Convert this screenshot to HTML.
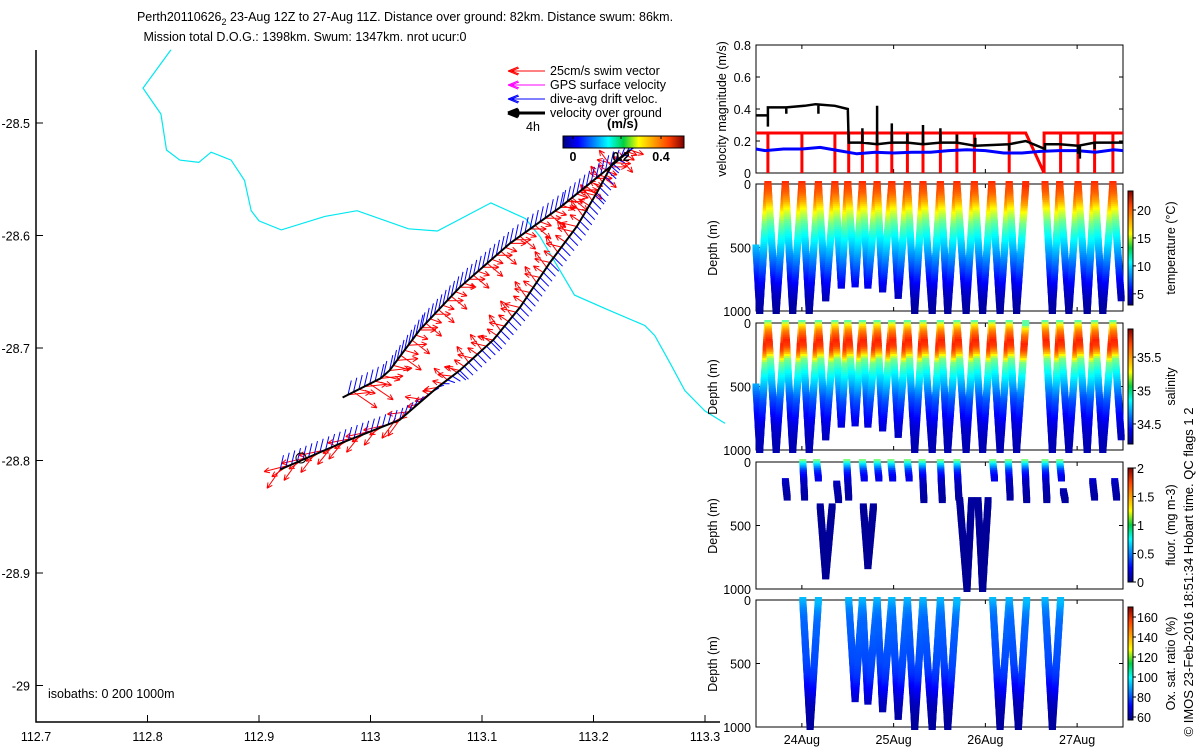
<!DOCTYPE html>
<html><head><meta charset="utf-8">
<style>
body{margin:0;background:#fff;}
svg{display:block;font-family:"Liberation Sans",sans-serif;}
text{fill:#000;}
</style></head>
<body>
<svg id="fig" width="1200" height="750" viewBox="0 0 1200 750" xmlns="http://www.w3.org/2000/svg">
<defs>
<linearGradient id="jetH" x1="0" x2="1" y1="0" y2="0">
<stop offset="0" stop-color="#000080"/><stop offset="0.125" stop-color="#0000ff"/><stop offset="0.375" stop-color="#00ffff"/><stop offset="0.5" stop-color="#00d040"/><stop offset="0.625" stop-color="#ffff00"/><stop offset="0.875" stop-color="#ff4000"/><stop offset="1" stop-color="#800000"/>
</linearGradient>
<linearGradient id="jetV" x1="0" x2="0" y1="1" y2="0">
<stop offset="0" stop-color="#000080"/><stop offset="0.125" stop-color="#0000ff"/><stop offset="0.375" stop-color="#00ffff"/><stop offset="0.5" stop-color="#00d040"/><stop offset="0.625" stop-color="#ffff00"/><stop offset="0.875" stop-color="#ff4000"/><stop offset="1" stop-color="#800000"/>
</linearGradient>
</defs>
<text x="405" y="21" font-size="12.5" text-anchor="middle">Perth20110626<tspan font-size="9" dy="4">2</tspan><tspan dy="-4"> 23-Aug 12Z to 27-Aug 11Z. Distance over ground: 82km. Distance swum: 86km.</tspan></text>
<text x="305" y="41" font-size="12.5" text-anchor="middle">Mission total D.O.G.: 1398km. Swum: 1347km. nrot ucur:0</text>
<g id="map"></g>
<g id="panels"></g>
<text transform="translate(1193,572) rotate(-90)" font-size="13" text-anchor="middle">© IMOS 23-Feb-2016 18:51:34 Hobart time. QC flags 1  2</text>
</svg>
<script>
// ---------- DATA ----------
const mapLonTicks=[112.7,112.8,112.9,113,113.1,113.2,113.3];
const mapLatTicks=[-28.5,-28.6,-28.7,-28.8,-28.9,-29];
const isoLon=[112.821,112.796,112.812,112.817,112.829,112.846,112.857,112.875,112.887,112.893,112.900,112.920,112.959,112.988,113.034,113.060,113.108,113.139,113.152,113.183,113.213,113.246,113.255,113.269,113.282,113.300,113.318];
const isoLat=[-28.435,-28.469,-28.492,-28.524,-28.533,-28.535,-28.526,-28.533,-28.551,-28.578,-28.587,-28.595,-28.583,-28.578,-28.594,-28.596,-28.571,-28.585,-28.601,-28.653,-28.666,-28.680,-28.689,-28.714,-28.738,-28.756,-28.767];
const trackLon=[112.919,112.975,113.026,113.060,113.080,113.110,113.134,113.161,113.185,113.203,113.217,113.233,113.215,113.170,113.125,113.080,113.044,113.017,113.009,112.975];
const trackLat=[-28.808,-28.784,-28.764,-28.735,-28.720,-28.693,-28.664,-28.624,-28.592,-28.562,-28.536,-28.524,-28.539,-28.575,-28.607,-28.646,-28.684,-28.720,-28.727,-28.744];
const driftU=[0.03,0.03,0.03,0.06,0.08,0.08,0.08,0.08,0.08,0.08,0.07,0.05,0.03,0.03,0.03,0.03,0.03,0.03,0.03,0.03];
const driftV=[0.13,0.12,0.11,0.02,-0.08,-0.08,-0.08,-0.08,-0.08,-0.08,-0.06,0.05,0.14,0.14,0.14,0.14,0.14,0.14,0.13,0.13];
const swimU=[-0.17,-0.17,-0.15,-0.12,-0.12,-0.12,-0.12,-0.12,-0.12,-0.12,-0.12,0.1,0.14,0.14,0.14,0.14,0.14,0.2,0.2,0.2];
const swimV=[-0.12,-0.1,-0.1,0.02,0.08,0.08,0.08,0.08,0.08,0.08,0.08,-0.08,-0.05,-0.05,-0.05,-0.05,-0.05,-0.05,-0.05,-0.05];

const dateTicks=[24,25,26,27];
const dateLabels=["24Aug","25Aug","26Aug","27Aug"];
const velTicks=[0,0.2,0.4,0.6,0.8];
const blackT=[23.5,23.63,23.63,23.83,24.03,24.15,24.36,24.50,24.51,24.66,24.82,24.98,25.15,25.32,25.51,25.69,25.89,26.26,26.44,26.65,26.65,26.81,27.01,27.19,27.5];
const blackV=[0.36,0.36,0.41,0.41,0.42,0.43,0.42,0.40,0.19,0.19,0.18,0.19,0.19,0.18,0.19,0.19,0.17,0.18,0.20,0.15,0.18,0.18,0.17,0.19,0.19];
const spikeT=[23.63,23.83,24.18,24.66,24.82,24.98,25.15,25.32,25.51,25.69,25.89,26.26,27.01,27.03,27.19];
const spikeV=[0.29,0.37,0.37,0.28,0.42,0.31,0.25,0.30,0.28,0.24,0.22,0.14,0.12,0.09,0.15];
const blueT=[23.5,23.6,23.8,24.0,24.2,24.4,24.6,24.8,25.0,25.2,25.4,25.6,25.8,26.0,26.2,26.4,26.6,26.8,27.0,27.2,27.4,27.5];
const blueV=[0.15,0.14,0.15,0.15,0.16,0.14,0.12,0.13,0.125,0.13,0.13,0.14,0.145,0.14,0.125,0.125,0.135,0.14,0.14,0.13,0.145,0.14];
const swimLevel=0.25;
const redDropT=[23.63,24.00,24.36,24.51,24.66,24.82,24.98,25.15,25.32,25.51,25.69,25.88,26.26,26.64,26.82,27.01,27.19,27.39];

const diveT=[23.50,23.54,23.63,23.72,23.82,23.90,24.00,24.08,24.18,24.26,24.36,24.43,24.50,24.58,24.66,24.72,24.82,24.88,24.98,25.05,25.15,25.23,25.32,25.42,25.51,25.59,25.69,25.79,25.88,25.97,26.07,26.16,26.26,26.34,26.44,null,26.65,26.73,26.81,26.91,27.01,27.11,27.19,27.28,27.39,27.48];
const diveD=[500,1000,0,1000,0,1000,0,1000,0,900,0,800,0,790,0,800,0,830,0,880,0,1000,0,1000,0,1000,0,1000,0,1000,0,1000,0,1000,0,null,0,1000,0,1000,0,1000,0,1000,0,900];
const profDepth=[0,30,80,150,200,250,300,400,500,600,700,800,900,1000];
const tempProf=[20,19.5,19,17.5,16,14.5,13,11,9.5,8,6.5,5,4,3.5];
const salProf=[35.0,35.3,35.5,35.65,35.6,35.4,35.05,34.85,34.7,34.55,34.45,34.35,34.3,34.28];
const fluorProf=[1.0,0.7,0.35,0.15,0.1,0.08,0.06,0.05,0.05,0.05,0.04,0.04,0.04,0.04];
const oxProf=[92,90,86,83,82,82,81,80,79,76,70,64,61,60];
const flStreakT=[23.82,24.01,24.16,24.38,24.49,24.66,24.82,24.97,25.15,25.31,25.51,25.69,26.08,26.25,26.43,26.65,26.81,26.85,27.17,27.41];
const flStreakTop=[150,0,0,170,0,0,0,0,0,0,0,0,0,0,0,0,0,230,150,150];
const flStreakBot=[280,280,130,300,280,130,130,130,130,300,300,280,130,280,300,300,130,300,280,280];
const flVStart=[24.20,24.67,25.72,25.92];
const flVBottom=[24.26,24.72,25.80,25.97];
const flVEnd=[24.33,24.78,25.85,26.03];
const flVDepth=[900,820,1000,1000];
const flVTop=[350,350,300,300];
const oxStart=[24.01,24.51,24.66,24.82,24.98,25.15,25.32,25.51,26.08,26.26,26.65];
const oxBottom=[24.09,24.58,24.72,24.88,25.05,25.23,25.42,25.59,26.16,26.36,26.73];
const oxEnd=[24.18,24.66,24.82,24.98,25.15,25.32,25.51,25.69,26.26,26.45,26.82];
const oxDepth=[1000,780,800,860,920,1000,1000,1000,1000,1000,1000];

// ---------- HELPERS ----------
const NS="http://www.w3.org/2000/svg";
function mk(parent,tag,attrs){const e=document.createElementNS(NS,tag);for(const k in attrs)e.setAttribute(k,attrs[k]);parent.appendChild(e);return e;}
function jet(t){t=Math.max(0,Math.min(1,t));const c=x=>Math.round(255*Math.max(0,Math.min(1,x)));return `rgb(${c(1.5-Math.abs(4*t-3))},${c(1.5-Math.abs(4*t-2))},${c(1.5-Math.abs(4*t-1))})`;}
function interp(xs,ys,x){for(let i=0;i<xs.length-1;i++){if(x<=xs[i+1]){const f=(x-xs[i])/(xs[i+1]-xs[i]);return ys[i]+f*(ys[i+1]-ys[i]);}}return ys[ys.length-1];}
const lonX=lon=>36+(lon-112.7)*1115;
const latY=lat=>123+(-28.5-lat)*1125;
const dX=d=>756+(d-23.5)*91.75;
const vY=v=>173-v*160;

// ---------- MAP ----------
const map=document.getElementById('map');
let iso=mk(map,'polyline',{points:isoLon.map((l,i)=>lonX(l).toFixed(1)+','+latY(isoLat[i]).toFixed(1)).join(' '),fill:'none',stroke:'#00e8f0','stroke-width':1.2});


const vec=mk(map,'g',{});


let blueD='',redD='';
const S=110, angs=[-0.35,0,0.35], lens=[1.0,0.75,1.25];
for(let i=0;i<trackLon.length-1;i++){
  const x0=lonX(trackLon[i]),y0=latY(trackLat[i]),x1=lonX(trackLon[i+1]),y1=latY(trackLat[i+1]);
  const L=Math.hypot(x1-x0,y1-y0),n=Math.max(1,Math.floor(L/3));
  for(let k=0;k<n;k++){
    const f=k/n,x=x0+f*(x1-x0),y=y0+f*(y1-y0);
    const du=driftU[i]+f*(driftU[i+1]-driftU[i]),dv=driftV[i]+f*(driftV[i+1]-driftV[i]);
    if(k%2===0)blueD+=`M${x.toFixed(1)},${y.toFixed(1)}l${(du*S).toFixed(1)},${(-dv*S).toFixed(1)}`;
    if(k%2===1)continue;
    const su=swimU[i]+f*(swimU[i+1]-swimU[i]),sv=swimV[i]+f*(swimV[i+1]-swimV[i]);
    const j=(k/2)%3;const a=Math.atan2(-sv,su)+angs[j];const m=Math.hypot(su,sv)*S*lens[j];
    const ex=x+m*Math.cos(a),ey=y+m*Math.sin(a);
    redD+=`M${x.toFixed(1)},${y.toFixed(1)}L${ex.toFixed(1)},${ey.toFixed(1)}`;
    const h1=a+Math.PI-0.45,h2=a+Math.PI+0.45;
    redD+=`M${ex.toFixed(1)},${ey.toFixed(1)}l${(6*Math.cos(h1)).toFixed(1)},${(6*Math.sin(h1)).toFixed(1)}M${ex.toFixed(1)},${ey.toFixed(1)}l${(6*Math.cos(h2)).toFixed(1)},${(6*Math.sin(h2)).toFixed(1)}`;
  }
}
let rp=mk(vec,'path',{d:redD,stroke:'#ff0000','stroke-width':1,fill:'none'});


let bp=mk(vec,'path',{d:blueD,stroke:'#0000ff','stroke-width':1,fill:'none'});


let tr=mk(map,'polyline',{points:trackLon.map((l,i)=>lonX(l).toFixed(1)+','+latY(trackLat[i]).toFixed(1)).join(' '),fill:'none',stroke:'#000','stroke-width':2});


let cir=mk(map,'circle',{cx:301,cy:458,r:5,fill:'none',stroke:'#000','stroke-width':1});


let ax=mk(map,'path',{d:'M36,50V722H720',stroke:'#000','stroke-width':1.5,fill:'none'});


mapLonTicks.forEach(l=>{const x=lonX(l);mk(map,'line',{x1:x,x2:x,y1:722,y2:715,stroke:'#000'});
 const t=mk(map,'text',{x:x,y:741,'font-size':12.5,'text-anchor':'middle'});t.textContent=String(l);
 
 });
mapLatTicks.forEach(l=>{const y=latY(l);mk(map,'line',{x1:36,x2:43,y1:y,y2:y,stroke:'#000'});
 const t=mk(map,'text',{x:30,y:y+5,'font-size':12.5,'text-anchor':'end'});t.textContent=String(l);
 
 });
let isoT=mk(map,'text',{x:48,y:698,'font-size':12.5});isoT.textContent='isobaths: 0   200  1000m';isoT.setAttribute('xml:space','preserve');


const leg=mk(map,'g',{});


[['#ff0000','25cm/s swim vector',1],['#ff00ff','GPS surface velocity',1],['#0000ff','dive-avg drift veloc.',1],['#000000','velocity over ground',3]].forEach((e,i)=>{
  const y=71+i*14;
  mk(leg,'path',{d:`M545,${y}H508M508,${y}l10,-4M508,${y}l10,4M511,${y}l8,-3M511,${y}l8,3`,stroke:e[0],'stroke-width':e[2],fill:'none'});
  const t=mk(leg,'text',{x:550,y:y+4,'font-size':12.5});t.textContent=e[1];
  
  
});
let h4=mk(leg,'text',{x:526,y:131,'font-size':12.5});h4.textContent='4h';


let ms=mk(leg,'text',{x:607,y:128,'font-size':13,'font-weight':'bold'});ms.textContent='(m/s)';


let cb=mk(leg,'rect',{x:563,y:136,width:121,height:12,fill:'url(#jetH)',stroke:'#000'});


[[573,'0'],[621,'0.2'],[661,'0.4']].forEach(a=>{mk(leg,'line',{x1:a[0],x2:a[0],y1:136,y2:139,stroke:'#000'});
 const t=mk(leg,'text',{x:a[0],y:161,'font-size':12.5,'font-weight':'bold','text-anchor':'middle'});t.textContent=a[1];
 
 });

// ---------- RIGHT PANELS ----------
const P=document.getElementById('panels');
const L0=756,R0=1123;
function box(top,bot){
  mk(P,'rect',{x:L0,y:top,width:R0-L0,height:bot-top,fill:'#fff',stroke:'#000','stroke-width':1});
  dateTicks.forEach(d=>{const x=dX(d);mk(P,'line',{x1:x,x2:x,y1:bot,y2:bot-4,stroke:'#000'});mk(P,'line',{x1:x,x2:x,y1:top,y2:top+4,stroke:'#000'});});
}
box(45,173);
const vg=mk(P,'g',{});


velTicks.forEach(v=>{const y=vY(v);mk(vg,'line',{x1:L0,x2:L0+4,y1:y,y2:y,stroke:'#000'});mk(vg,'line',{x1:R0,x2:R0-4,y1:y,y2:y,stroke:'#000'});
 const t=mk(vg,'text',{x:751,y:y+5,'font-size':12.5,'text-anchor':'end'});t.textContent=String(v);
 
 });
let vl=mk(vg,'text',{transform:'translate(726,109) rotate(-90)','font-size':12.5,'text-anchor':'middle'});vl.textContent='velocity magnitude (m/s)';


let rd=`M${L0},${vY(swimLevel)}H${dX(26.44)}L${dX(26.64)},${vY(0)}V${vY(swimLevel)}H${R0}`;
redDropT.forEach(t=>{rd+=`M${dX(t).toFixed(1)},${vY(swimLevel)}V${vY(0)}`;});
let rl=mk(vg,'path',{d:rd,stroke:'#ff0000','stroke-width':3,fill:'none'});


let bl=mk(vg,'polyline',{points:blueT.map((t,i)=>dX(t).toFixed(1)+','+vY(blueV[i]).toFixed(1)).join(' '),stroke:'#0000ff','stroke-width':3,fill:'none'});


let kd='';
blackT.forEach((t,i)=>{kd+=(i?'L':'M')+dX(t).toFixed(1)+','+vY(blackV[i]).toFixed(1);});
spikeT.forEach((t,i)=>{const x=dX(t).toFixed(1);kd+=`M${x},${vY(interp(blackT,blackV,t)).toFixed(1)}V${vY(spikeV[i]).toFixed(1)}`;});
let kl=mk(vg,'path',{d:kd,stroke:'#000','stroke-width':2.5,fill:'none'});



function depthPanel(top,name,cbTop,cbBot,cbTicks,cbMin,cbMax,label){
  const bot=top+127;
  box(top,bot);
  const g=mk(P,'g',{});
  
  
  [[0,'0'],[500,'500'],[1000,'1000']].forEach(a=>{const y=top+a[0]*0.127;mk(g,'line',{x1:L0,x2:L0+4,y1:y,y2:y,stroke:'#000'});mk(g,'line',{x1:R0,x2:R0-4,y1:y,y2:y,stroke:'#000'});
    const t=mk(g,'text',{x:751,y:y+5,'font-size':12.5,'text-anchor':'end'});t.textContent=a[1];
    
    });
  const dl=mk(g,'text',{transform:`translate(717,${top+64}) rotate(-90)`,'font-size':12.5,'text-anchor':'middle'});dl.textContent='Depth (m)';
  
  
  const c=mk(g,'rect',{x:1128,y:cbTop,width:5,height:cbBot-cbTop,fill:'url(#jetV)',stroke:'#000','stroke-width':1});
  
  
  cbTicks.forEach(v=>{const y=cbBot-(v-cbMin)/(cbMax-cbMin)*(cbBot-cbTop);mk(g,'line',{x1:1133,x2:1136,y1:y,y2:y,stroke:'#000'});
    const t=mk(g,'text',{x:1137,y:y+5,'font-size':12.5});t.textContent=String(v);
    
    });
  const cl=mk(g,'text',{transform:`translate(1175,${(cbTop+cbBot)/2}) rotate(-90)`,'font-size':12.5,'text-anchor':'middle'});cl.textContent=label;
  
  
  const pts=mk(g,'g',{});
  
  
  return {top,g:pts,cbMin,cbMax};
}
function leg2(panel,prof,t0,d0,t1,d1){
  const step=15;const n=Math.max(1,Math.round(Math.abs(d1-d0)/step));
  for(let k=0;k<=n;k++){
    const f=k/n,t=t0+f*(t1-t0),d=d0+f*(d1-d0);
    const v=interp(profDepth,prof,d);
    const y=Math.min(panel.top+127-3,Math.max(panel.top-3,panel.top+d*0.127-3));
    mk(panel.g,'rect',{x:(dX(t)-3.5).toFixed(1),y:y.toFixed(1),width:7,height:6,fill:jet((v-panel.cbMin)/(panel.cbMax-panel.cbMin))});
  }
}
function drawDives(panel,prof){
  for(let i=0;i<diveT.length-1;i++){
    if(diveT[i]===null||diveT[i+1]===null)continue;
    leg2(panel,prof,diveT[i],diveD[i],diveT[i+1],diveD[i+1]);
  }
}
const tp=depthPanel(184,'temperature-panel',191,305,[5,10,15,20],3.0,23.4,'temperature (°C)');
drawDives(tp,tempProf);
const sp=depthPanel(323,'salinity-panel',329,444,[34.5,35,35.5],34.2,35.92,'salinity');
drawDives(sp,salProf);
const fp=depthPanel(462,'fluorescence-panel',468,582,[0,0.5,1,1.5,2],0,2,'fluor. (mg m-3)');
flStreakT.forEach((t,i)=>leg2(fp,fluorProf,t,flStreakTop[i],t+0.02,flStreakBot[i]));
flVStart.forEach((t,i)=>{leg2(fp,fluorProf,t,flVTop[i],flVBottom[i],flVDepth[i]);leg2(fp,fluorProf,flVBottom[i],flVDepth[i],flVEnd[i],flVTop[i]);});
const op=depthPanel(600,'oxygen-panel',607,720,[60,80,100,120,140,160],57,170,'Ox. sat. ratio (%)');
oxStart.forEach((t,i)=>{leg2(op,oxProf,t,0,oxBottom[i],oxDepth[i]);leg2(op,oxProf,oxBottom[i],oxDepth[i],oxEnd[i],0);});
dateTicks.forEach((d,i)=>{const t=mk(P,'text',{x:dX(d),y:744,'font-size':12.5,'text-anchor':'middle'});t.textContent=dateLabels[i];
  
  });
</script>
</body></html>
